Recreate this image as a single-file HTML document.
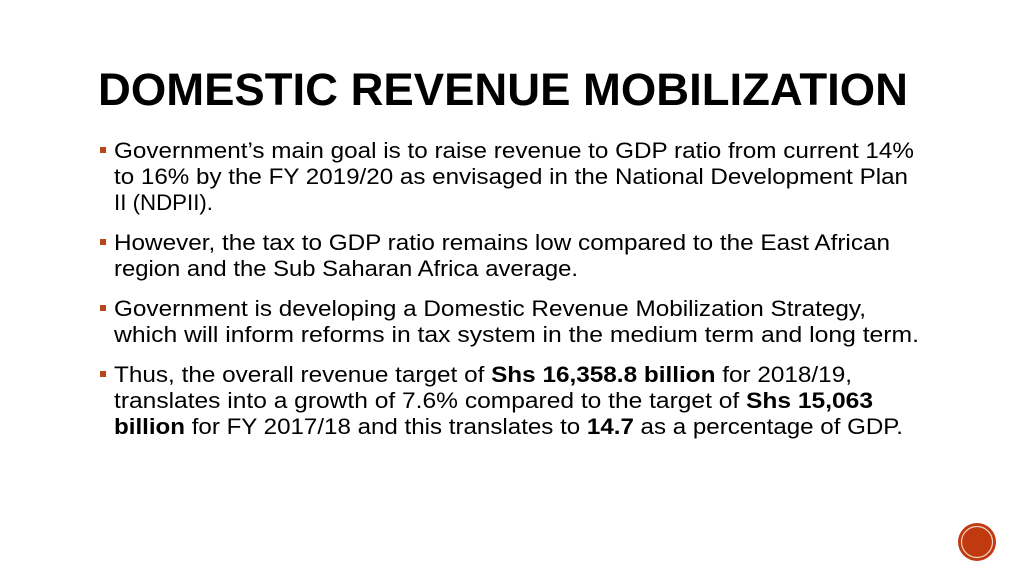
<!DOCTYPE html>
<html><head><meta charset="utf-8"><style>
html,body{margin:0;padding:0;background:#fff;}
svg{display:block;}
text{font-family:"Liberation Sans",sans-serif;fill:#000;}
</style></head><body>
<svg width="1024" height="576" viewBox="0 0 1024 576">
<text x="98" y="105" font-size="45" font-weight="bold" fill="#111" textLength="810" lengthAdjust="spacingAndGlyphs">DOMESTIC REVENUE MOBILIZATION</text>
<g font-size="22">
<rect x="100" y="147" width="6" height="6" fill="#b5471b"/>
<rect x="100" y="239" width="6" height="6" fill="#b5471b"/>
<rect x="100" y="305" width="6" height="6" fill="#b5471b"/>
<rect x="100" y="371" width="6" height="6" fill="#b5471b"/>
<text x="114" y="158" textLength="800" lengthAdjust="spacingAndGlyphs">Government’s main goal is to raise revenue to GDP ratio from current 14%</text>
<text x="114" y="184" textLength="794" lengthAdjust="spacingAndGlyphs">to 16% by the FY 2019/20 as envisaged in the National Development Plan</text>
<text x="114" y="210" textLength="99" lengthAdjust="spacingAndGlyphs">II (NDPII).</text>
<text x="114" y="250" textLength="776" lengthAdjust="spacingAndGlyphs">However, the tax to GDP ratio remains low compared to the East African</text>
<text x="114" y="276" textLength="464" lengthAdjust="spacingAndGlyphs">region and the Sub Saharan Africa average.</text>
<text x="114" y="316" textLength="752" lengthAdjust="spacingAndGlyphs">Government is developing a Domestic Revenue Mobilization Strategy,</text>
<text x="114" y="342" textLength="805" lengthAdjust="spacingAndGlyphs">which will inform reforms in tax system in the medium term and long term.</text>
<text x="114" y="382" textLength="738" lengthAdjust="spacingAndGlyphs">Thus, the overall revenue target of <tspan font-weight="bold">Shs 16,358.8 billion</tspan> for 2018/19,</text>
<text x="114" y="408" textLength="759" lengthAdjust="spacingAndGlyphs">translates into a growth of 7.6% compared to the target of <tspan font-weight="bold">Shs 15,063</tspan></text>
<text x="114" y="434" textLength="789" lengthAdjust="spacingAndGlyphs"><tspan font-weight="bold">billion</tspan> for FY 2017/18 and this translates to <tspan font-weight="bold">14.7</tspan> as a percentage of GDP.</text>
</g>
<g>
<circle cx="977" cy="542" r="19" fill="#c0390f"/>
<circle cx="977" cy="542" r="15.5" fill="none" stroke="#f3d3c4" stroke-width="1.2"/>
</g>
</svg>
</body></html>
